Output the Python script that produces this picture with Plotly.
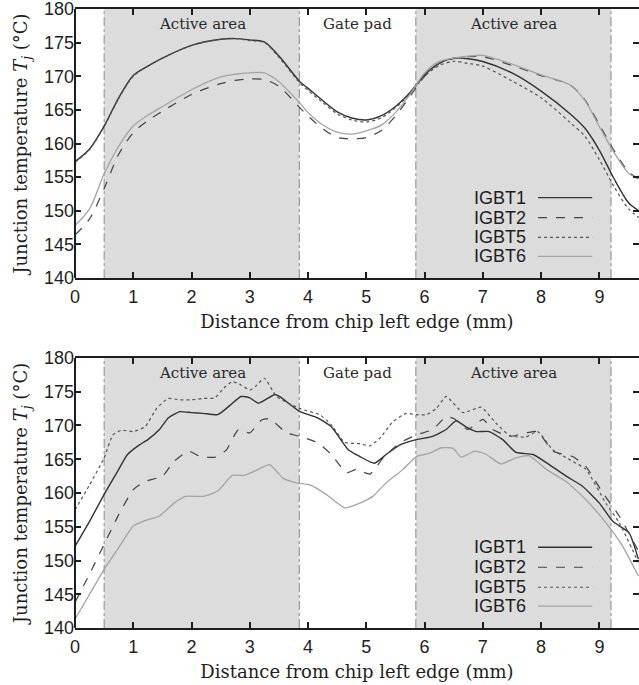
import plotly.graph_objects as go

# ---------------- data ----------------
series_names = ["IGBT1", "IGBT2", "IGBT5", "IGBT6"]

# top panel (shared x grid)
top_x = [0, 0.25, 0.5, 0.75, 1.0, 1.25, 1.5, 2.0, 2.5, 2.75, 3.0, 3.25, 3.5, 3.86, 4.0, 4.25, 4.5, 4.75,
         5.0, 5.25, 5.5, 5.75, 6.0, 6.25, 6.5, 6.75, 7.0, 7.5, 8.0, 8.5, 8.75, 9.0, 9.25, 9.5, 9.68]
top_igbt1 = [157.3, 159.2, 162.6, 166.8, 170.1, 171.5, 172.7, 174.6, 175.5, 175.6, 175.4, 175.1, 173.0, 169.2,
             168.2, 166.4, 164.7, 163.8, 163.5, 164.1, 165.5, 167.6, 170.2, 171.9, 172.7, 172.6, 172.2, 170.5,
             167.8, 164.4, 162.3, 159.0, 154.8, 151.2, 150.0]
top_igbt2 = [146.4, 148.8, 153.3, 158.4, 161.6, 163.4, 164.8, 167.3, 168.9, 169.4, 169.6, 169.5, 168.5, 165.3,
             164.1, 162.2, 160.9, 160.7, 160.9, 161.9, 164.1, 167.0, 170.0, 171.9, 172.6, 172.9, 172.9, 171.6,
             170.1, 168.7, 166.5, 162.8, 159.0, 155.8, 154.7]
top_igbt5 = [157.2, 159.1, 162.5, 166.7, 170.0, 171.5, 172.7, 174.6, 175.5, 175.6, 175.3, 175.0, 172.8, 169.0,
             167.9, 166.1, 164.4, 163.5, 163.2, 163.8, 165.3, 167.4, 170.0, 171.6, 172.2, 171.9, 171.5, 169.3,
             166.8, 163.1, 161.1, 157.6, 153.6, 150.3, 149.0]
top_igbt6 = [147.8, 150.3, 155.5, 159.6, 162.6, 164.2, 165.5, 168.0, 169.9, 170.3, 170.5, 170.5, 169.2, 166.0,
             164.6, 162.8, 161.7, 161.4, 161.9, 162.7, 164.6, 167.3, 170.5, 172.2, 172.7, 173.0, 173.1, 171.8,
             170.2, 168.7, 166.4, 162.5, 158.7, 155.6, 154.8]

# bottom panel
bot_igbt1_x = [0, 0.25, 0.5, 0.75, 0.9, 1.1, 1.25, 1.45, 1.6, 1.8, 2.0, 2.2, 2.45, 2.65, 2.85, 3.0, 3.15, 3.43,
               3.51, 3.86, 4.17, 4.4, 4.69, 4.89, 5.14, 5.34, 5.57, 5.86, 6.14, 6.37, 6.54, 6.71, 6.89, 7.11,
               7.34, 7.57, 7.86, 8.14, 8.43, 8.71, 9.0, 9.23, 9.51, 9.67]
bot_igbt1 = [152.1, 155.8, 159.8, 163.5, 165.7, 167.1, 167.9, 169.4, 171.1, 172.05, 171.9, 171.8, 171.6, 172.9,
             174.3, 174.1, 173.3, 174.6, 174.3, 172.05, 171.1, 169.8, 166.4, 165.4, 164.4, 165.7, 167.1, 167.9,
             168.4, 169.4, 170.7, 169.8, 169.1, 169.1, 167.9, 166.0, 165.7, 164.2, 162.5, 161.0, 158.5, 155.8,
             154.1, 150.2]
bot_igbt2_x = [0, 0.25, 0.5, 0.75, 1.0, 1.2, 1.5, 1.7, 1.95, 2.15, 2.4, 2.6, 2.8, 3.0, 3.2, 3.34, 3.63, 3.86,
               4.17, 4.4, 4.66, 4.83, 5.06, 5.29, 5.57, 5.86, 6.14, 6.37, 6.51, 6.74, 7.0, 7.17, 7.46, 7.74,
               7.94, 8.2, 8.54, 8.77, 9.06, 9.34, 9.67]
bot_igbt2 = [143.8, 148.0, 152.4, 156.8, 160.5, 161.7, 162.5, 164.7, 166.2, 165.4, 165.3, 166.4, 169.35, 168.9,
             170.8, 171.0, 168.9, 168.4, 167.4, 165.7, 163.0, 163.5, 162.8, 165.2, 167.4, 168.6, 169.4, 171.3,
             171.0, 169.4, 170.9, 169.4, 168.4, 168.9, 169.1, 166.2, 165.4, 163.9, 160.0, 156.6, 151.4]
bot_igbt5_x = [0, 0.25, 0.5, 0.65, 0.8, 1.0, 1.2, 1.4, 1.6, 1.8, 2.0, 2.2, 2.4, 2.55, 2.7, 2.85, 3.0, 3.1, 3.25,
               3.46, 3.86, 4.2, 4.4, 4.63, 4.89, 5.06, 5.23, 5.46, 5.69, 5.86, 6.03, 6.2, 6.37, 6.66, 6.97,
               7.23, 7.46, 7.74, 7.94, 8.2, 8.54, 8.77, 9.11, 9.34, 9.67]
bot_igbt5 = [157.5, 161.2, 165.2, 168.6, 169.3, 169.1, 169.8, 172.5, 174.0, 173.8, 173.8, 174.0, 174.1, 175.5,
             176.5, 176.0, 175.25, 175.8, 177.0, 174.3, 172.5, 171.6, 170.1, 167.5, 167.3, 167.0, 168.1, 170.6,
             171.8, 171.6, 171.6, 172.5, 174.3, 171.9, 172.7, 170.3, 168.5, 168.3, 169.1, 166.4, 164.7, 163.5,
             158.5, 155.6, 149.7]
bot_igbt6_x = [0, 0.25, 0.5, 0.75, 1.0, 1.2, 1.45, 1.7, 1.9, 2.2, 2.45, 2.7, 2.9, 3.1, 3.34, 3.57, 3.8, 4.03,
               4.31, 4.63, 4.89, 5.11, 5.34, 5.63, 5.86, 6.09, 6.29, 6.49, 6.63, 6.86, 7.06, 7.31, 7.57, 7.8,
               8.09, 8.43, 8.77, 9.11, 9.4, 9.67]
bot_igbt6 = [141.3, 145.0, 148.7, 151.9, 155.1, 155.9, 156.6, 158.5, 159.5, 159.5, 160.3, 162.6, 162.6, 163.3,
             164.2, 162.2, 161.5, 161.2, 159.8, 157.8, 158.5, 159.5, 161.5, 163.5, 165.4, 165.9, 166.7, 166.6,
             165.3, 166.2, 165.7, 164.3, 165.2, 165.5, 163.5, 161.7, 159.0, 155.6, 152.1, 147.7]

# chip regions (mm)
active_areas = [(0.5, 3.85), (5.85, 9.2)]
region_bounds = [0.5, 3.85, 5.85, 9.2]
region_labels = ["Active area", "Gate pad", "Active area"]
region_label_x = [2.18, 4.85, 7.52]

x_ticks = list(range(0, 10))
y_ticks = list(range(140, 181, 5))

# ---------------- styles ----------------
styles = {
    "IGBT1": dict(color="#333333", dash="solid", width=1.4),
    "IGBT2": dict(color="#444444", dash="dash", width=1.2),
    "IGBT5": dict(color="#555555", dash="dot", width=1.2),
    "IGBT6": dict(color="#a3a3a3", dash="solid", width=1.3),
}

fig = go.Figure()

top_series = [top_igbt1, top_igbt2, top_igbt5, top_igbt6]
for name, ys in zip(series_names, top_series):
    fig.add_trace(go.Scatter(x=top_x, y=ys, mode="lines", name=name, showlegend=False,
                             line=dict(shape="spline", smoothing=0.8, **styles[name]),
                             xaxis="x", yaxis="y"))

bot_series = [(bot_igbt1_x, bot_igbt1), (bot_igbt2_x, bot_igbt2), (bot_igbt5_x, bot_igbt5), (bot_igbt6_x, bot_igbt6)]
for name, (xs, ys) in zip(series_names, bot_series):
    fig.add_trace(go.Scatter(x=xs, y=ys, mode="lines", name=name, showlegend=False,
                             line=dict(shape="spline", smoothing=0.5, **styles[name]),
                             xaxis="x2", yaxis="y2"))

serif = "DejaVu Serif"
sans = "Liberation Sans"
ink = "#1e1e1e"

axis_common = dict(range=[0, 9.68], tickvals=x_ticks, ticks="inside", ticklen=6, tickwidth=1.5,
                   tickcolor=ink, showline=True, linewidth=2, linecolor=ink, mirror="ticks",
                   showgrid=False, zeroline=False, automargin=False, ticklabelstandoff=1,
                   ticklabeloverflow="allow", tickfont=dict(family=sans, size=18, color=ink))
yaxis_common = dict(range=[140, 180], tickvals=y_ticks, ticks="inside", ticklen=6, tickwidth=1.5,
                    tickcolor=ink, showline=False, mirror="ticks", showgrid=False, zeroline=False,
                    automargin=False, ticklabeloverflow="allow",
                    tickfont=dict(family=sans, size=18, color=ink))

ytitle = dict(text="Junction temperature <i>T<sub>j</sub></i> (°C)", font=dict(family=serif, size=18, color=ink),
              standoff=11)
xtitle = dict(text="Distance from chip left edge (mm)", font=dict(family=serif, size=18, color=ink), standoff=10)

top_dom = [0.594, 0.9869]
bot_dom = [0.0832, 0.4774]

fig.update_layout(
    width=639, height=685,
    margin=dict(l=75, r=0, t=0, b=0, autoexpand=False),
    paper_bgcolor="white", plot_bgcolor="white",
    xaxis=dict(domain=[0, 1], anchor="y", title=xtitle, **axis_common),
    yaxis=dict(domain=top_dom, anchor="x", title=ytitle, **yaxis_common),
    xaxis2=dict(domain=[0, 1], anchor="y2", title=xtitle, **axis_common),
    yaxis2=dict(domain=bot_dom, anchor="x2", title=ytitle, **yaxis_common),
    showlegend=False,
)

shapes = []
annotations = []
for xa, ya in [("x", "y"), ("x2", "y2")]:
    for (a, b) in active_areas:
        shapes.append(dict(type="rect", xref=xa, yref=f"{ya} domain", x0=a, x1=b, y0=0, y1=1,
                           fillcolor="#dcdcdc", line=dict(width=0), layer="below"))
    for xb in region_bounds:
        shapes.append(dict(type="line", xref=xa, yref=f"{ya} domain", x0=xb, x1=xb, y0=0, y1=1,
                           line=dict(color="#8a8a8a", width=1, dash="dashdot"), layer="below"))
    # left frame line
    shapes.append(dict(type="line", xref=f"{xa} domain", yref=f"{ya} domain", x0=0, x1=0, y0=0, y1=1,
                       line=dict(color=ink, width=2)))
    for lbl, lx in zip(region_labels, region_label_x):
        annotations.append(dict(text=lbl, x=lx, xref=xa, y=0.945, yref=f"{ya} domain", showarrow=False,
                                font=dict(family=serif, size=15, color="#2a2a2a"), yanchor="middle"))
    # legend (text right-aligned, line sample to the right)
    rows = [0.299, 0.225, 0.151, 0.081]
    for name, ry in zip(series_names, rows):
        annotations.append(dict(text=name, x=0.803, xref=f"{xa} domain", y=ry, yref=f"{ya} domain",
                                xanchor="right", yanchor="middle", showarrow=False,
                                font=dict(family=sans, size=18, color=ink)))
        st = styles[name]
        shapes.append(dict(type="line", xref=f"{xa} domain", yref=f"{ya} domain", x0=0.821, x1=0.917,
                           y0=ry, y1=ry, line=dict(color=st["color"], width=st["width"], dash=st["dash"])))

fig.update_layout(shapes=shapes, annotations=annotations)
# remove the default page margin so the figure sits at the window's top-left corner
fig.write_html("out.html", config={"displayModeBar": False},
               post_script="document.body.style.margin='0px';")
